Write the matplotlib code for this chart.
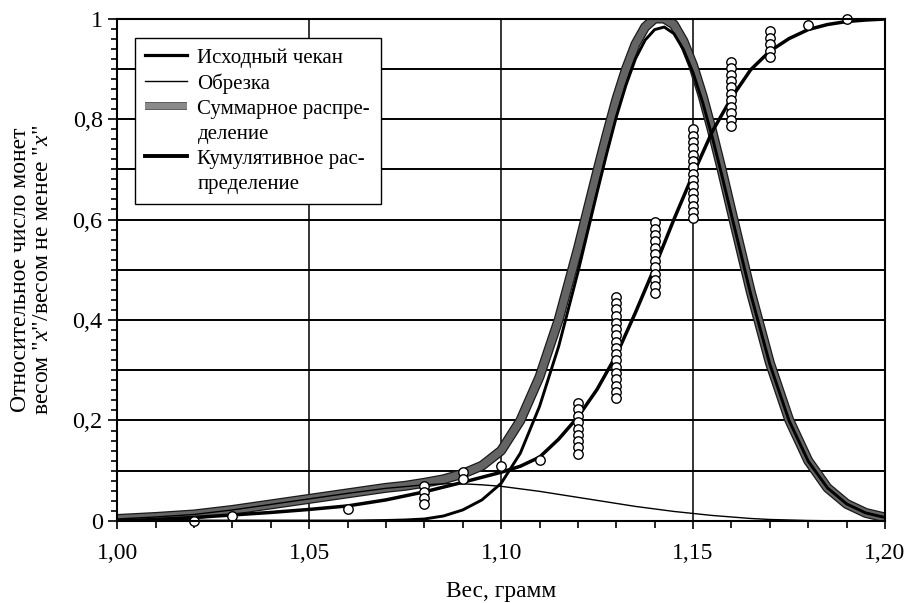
import matplotlib
matplotlib.use('Agg')
import matplotlib.pyplot as plt
import matplotlib.patheffects as pe
from matplotlib.lines import Line2D
from matplotlib.ticker import MultipleLocator, FuncFormatter

plt.rcParams['font.family'] = ['Liberation Serif', 'DejaVu Serif']
plt.rcParams['mathtext.fontset'] = 'custom'
plt.rcParams['mathtext.rm'] = 'Liberation Serif'
plt.rcParams['mathtext.it'] = 'Liberation Serif:italic'

# ---------------- data ----------------
orig_x = [1.00, 1.05, 1.06, 1.07, 1.075, 1.08, 1.085, 1.09, 1.095, 1.10, 1.105, 1.11,
          1.115, 1.12, 1.125, 1.1275, 1.13, 1.1325, 1.135, 1.1375, 1.14, 1.1425, 1.145,
          1.1475, 1.15, 1.1525, 1.155, 1.1575, 1.16, 1.165, 1.17, 1.175, 1.18, 1.185,
          1.19, 1.195, 1.20]
orig_y = [0.0, 0.0, 0.0, 0.001, 0.002, 0.004, 0.010, 0.022, 0.042, 0.075, 0.135, 0.228,
          0.348, 0.495, 0.654, 0.731, 0.804, 0.867, 0.920, 0.957, 0.978, 0.983, 0.970,
          0.938, 0.892, 0.833, 0.764, 0.688, 0.609, 0.452, 0.312, 0.200, 0.119, 0.066,
          0.034, 0.016, 0.007]

trim_x = [1.00, 1.01, 1.02, 1.03, 1.04, 1.05, 1.06, 1.07, 1.08, 1.085, 1.09, 1.095, 1.10,
          1.105, 1.11, 1.115, 1.12, 1.125, 1.13, 1.135, 1.14, 1.145, 1.15, 1.155, 1.16,
          1.165, 1.17, 1.175, 1.18, 1.19, 1.20]
trim_y = [0.004, 0.008, 0.013, 0.022, 0.033, 0.044, 0.055, 0.065, 0.072, 0.074, 0.074,
          0.072, 0.069, 0.064, 0.059, 0.053, 0.047, 0.041, 0.035, 0.029, 0.024, 0.019,
          0.015, 0.011, 0.008, 0.005, 0.003, 0.002, 0.001, 0.0, 0.0]

sum_x = [1.00, 1.01, 1.02, 1.03, 1.04, 1.05, 1.06, 1.07, 1.075, 1.08, 1.085, 1.09, 1.095,
         1.10, 1.105, 1.11, 1.115, 1.12, 1.125, 1.1275, 1.13, 1.1325, 1.135, 1.1375, 1.14,
         1.1425, 1.145, 1.1475, 1.15, 1.1525, 1.155, 1.1575, 1.16, 1.165, 1.17, 1.175,
         1.18, 1.185, 1.19, 1.195, 1.20]
sum_y = [0.004, 0.008, 0.013, 0.022, 0.033, 0.044, 0.055, 0.066, 0.070, 0.076, 0.083,
         0.094, 0.110, 0.140, 0.200, 0.287, 0.401, 0.542, 0.695, 0.769, 0.839, 0.899,
         0.949, 0.983, 1.000, 1.000, 0.988, 0.955, 0.907, 0.846, 0.775, 0.698, 0.617,
         0.457, 0.315, 0.202, 0.120, 0.066, 0.034, 0.016, 0.007]

cum_x = [1.00, 1.01, 1.02, 1.03, 1.04, 1.05, 1.06, 1.07, 1.08, 1.09, 1.10, 1.105, 1.11,
         1.115, 1.12, 1.125, 1.13, 1.135, 1.14, 1.145, 1.15, 1.155, 1.16, 1.165, 1.17,
         1.175, 1.18, 1.185, 1.19, 1.195, 1.20]
cum_y = [0.0, 0.003, 0.007, 0.012, 0.017, 0.023, 0.030, 0.042, 0.058, 0.077, 0.097, 0.109,
         0.127, 0.163, 0.207, 0.262, 0.330, 0.415, 0.505, 0.600, 0.690, 0.775, 0.842,
         0.898, 0.935, 0.960, 0.978, 0.988, 0.994, 0.997, 0.999]

# observed coins (weight -> stacked relative values)
obs_weights = [1.02, 1.03, 1.06, 1.08, 1.09, 1.10, 1.11, 1.12, 1.13, 1.14, 1.15, 1.16,
               1.17, 1.18, 1.19]
obs_values = [
    [0.0],
    [0.010],
    [0.024],
    [0.070, 0.057, 0.045, 0.033],
    [0.097, 0.084],
    [0.109],
    [0.122],
    [0.234, 0.222, 0.209, 0.197, 0.184, 0.172, 0.159, 0.147, 0.134],
    [0.446, 0.433, 0.421, 0.408, 0.395, 0.383, 0.370, 0.357, 0.345, 0.332, 0.320,
     0.307, 0.294, 0.282, 0.269, 0.256, 0.244],
    [0.595, 0.582, 0.569, 0.557, 0.544, 0.531, 0.518, 0.505, 0.492, 0.480, 0.467, 0.454],
    [0.780, 0.767, 0.755, 0.742, 0.729, 0.716, 0.704, 0.691, 0.678, 0.666, 0.653,
     0.640, 0.627, 0.615, 0.602],
    [0.914, 0.901, 0.888, 0.876, 0.863, 0.850, 0.837, 0.824, 0.811, 0.799, 0.786],
    [0.975, 0.962, 0.949, 0.936, 0.923],
    [0.988],
    [1.000],
]

labels = ['Исходный чекан', 'Обрезка', 'Суммарное распре-', 'деление',
          'Кумулятивное рас-', 'пределение']
xlabel = 'Вес, грамм'
ylabel = 'Относительное число монет\nвесом "$\\mathit{x}$"/весом не менее "$\\mathit{x}$"'
x_ticks = [1.00, 1.05, 1.10, 1.15, 1.20]
y_ticks = [0, 0.2, 0.4, 0.6, 0.8, 1.0]
h_grid = [0.1, 0.2, 0.3, 0.4, 0.5, 0.6, 0.7, 0.8, 0.9]
v_grid = [1.05, 1.10, 1.15]

# ---------------- figure ----------------
fig = plt.figure(figsize=(9.06, 6.03), dpi=100)
ax = fig.add_axes([0.1295, 0.136, 0.8473, 0.8333])
ax.set_xlim(1.00, 1.20)
ax.set_ylim(0, 1.0)

for g in h_grid:
    ax.axhline(g, color='black', lw=1.4, zorder=1)
for g in v_grid:
    ax.axvline(g, color='black', lw=1.1, zorder=1)

gray_fx = [pe.Stroke(linewidth=7.2, foreground='#1a1a1a'), pe.Normal()]
ax.plot(sum_x, sum_y, color='#646464', lw=5.4, solid_capstyle='butt',
        path_effects=gray_fx, zorder=3)
ax.plot(trim_x, trim_y, color='black', lw=1.0, zorder=4)
ax.plot(orig_x, orig_y, color='black', lw=2.1, zorder=4)
ax.plot(cum_x, cum_y, color='black', lw=2.5, zorder=5)

for w, vals in zip(obs_weights, obs_values):
    ax.plot([w] * len(vals), vals, linestyle='none', marker='o', ms=6.8,
            mfc='white', mec='black', mew=1.0, zorder=6, clip_on=False)

ax.set_xticks(x_ticks)
ax.xaxis.set_minor_locator(MultipleLocator(0.01))
ax.set_yticks(y_ticks)
ax.yaxis.set_minor_locator(MultipleLocator(0.02))
ax.xaxis.set_major_formatter(FuncFormatter(lambda v, p: f'{v:.2f}'.replace('.', ',')))
ax.yaxis.set_major_formatter(FuncFormatter(
    lambda v, p: '0' if abs(v) < 1e-9 else ('1' if abs(v - 1) < 1e-9 else f'{v:.1f}'.replace('.', ','))))

ax.tick_params(axis='x', which='major', direction='out', length=6, width=1.2,
               labelsize=17, pad=10)
ax.tick_params(axis='x', which='minor', direction='out', length=5, width=1.2)
ax.tick_params(axis='y', which='major', direction='out', length=6.5, width=1.2,
               labelsize=17.5, pad=4)
ax.tick_params(axis='y', which='minor', direction='out', length=4, width=1.2)

for s in ax.spines.values():
    s.set_linewidth(1.5)
    s.set_zorder(7)

ax.set_xlabel(xlabel, fontsize=16.8)
ax.xaxis.label.set_va('center')
ax.xaxis.set_label_coords(0.5, -0.141)
ax.set_ylabel(ylabel, fontsize=17, linespacing=1.05)
ax.yaxis.label.set_va('center')
ax.yaxis.set_label_coords(-0.112, 0.5)

h_orig = Line2D([], [], color='black', lw=2.3)
h_trim = Line2D([], [], color='black', lw=1.0)
h_sum = Line2D([], [], color='#8a8a8a', lw=4.6, solid_capstyle='butt',
               path_effects=[pe.Stroke(linewidth=5.6, foreground='#444444'), pe.Normal()])
h_blank = Line2D([], [], color='none')
h_cum = Line2D([], [], color='black', lw=2.8)
leg = ax.legend([h_orig, h_trim, h_sum, h_blank, h_cum, h_blank], labels,
                loc='upper left', bbox_to_anchor=(0.023, 0.962), borderaxespad=0,
                frameon=True, fancybox=False, edgecolor='black', framealpha=1,
                fontsize=15, handlelength=2.0, handletextpad=0.5,
                labelspacing=0.26, borderpad=0.5)
leg.get_frame().set_linewidth(1.0)
leg.set_zorder(8)

fig.savefig('out.png', dpi=100)
